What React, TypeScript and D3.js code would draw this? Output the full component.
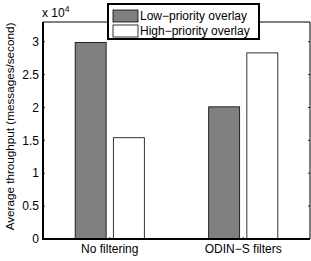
import React from "react";
import * as d3 from "d3";

const categories = ["No filtering", "ODIN\u2212S filters"];
const seriesNames = ["Low\u2212priority overlay", "High\u2212priority overlay"];
const lowValues = [29900, 20100];
const highValues = [15400, 28300];
const yTicks = [0, 5000, 10000, 15000, 20000, 25000, 30000];
const yTickLabels = ["0", "0.5", "1", "1.5", "2", "2.5", "3"];
const colors = ["#808080", "#ffffff"];

const W = 311, H = 261;
const left = 43, right = 310, top = 22, bottom = 239;
const font = "Liberation Sans, Arial, Helvetica, sans-serif";

export default function App() {
  const x = d3.scaleLinear().domain([0.5, 2.5]).range([left, right]);
  const y = d3.scaleLinear().domain([0, 33000]).range([bottom, top]);
  const unit = x(1) - x(0);
  const barW = unit * 0.232;
  const offsets = [-0.143, 0.143];
  const series = [lowValues, highValues];
  return (
    <svg width={W} height={H} style={{ position: "absolute", left: 0, top: 0, background: "#fff" }} fontFamily={font}>
      <rect x={0} y={0} width={W} height={H} fill="#fff" />
      {series.map((vals, si) =>
        vals.map((v, ci) => {
          const cx = x(ci + 1) + offsets[si] * unit;
          return (
            <rect key={`${si}-${ci}`} x={cx - barW / 2} y={y(v)} width={barW} height={y(0) - y(v)}
              fill={colors[si]} stroke="#000" strokeWidth={0.8} />
          );
        })
      )}
      <line x1={left} x2={right} y1={top} y2={top} stroke="#000" strokeWidth={1} />
      <line x1={right} x2={right} y1={top} y2={bottom} stroke="#000" strokeWidth={1} />
      <line x1={left} x2={left} y1={top} y2={bottom + 1} stroke="#000" strokeWidth={2} />
      <line x1={left} x2={right} y1={bottom} y2={bottom} stroke="#000" strokeWidth={2} />
      {yTicks.map((t, i) => (
        <g key={t}>
          <line x1={left} x2={left + 2} y1={y(t)} y2={y(t)} stroke="#000" strokeWidth={0.8} />
          <line x1={right - 2} x2={right} y1={y(t)} y2={y(t)} stroke="#000" strokeWidth={0.8} />
          <text x={left - 4} y={y(t)} dy="0.35em" textAnchor="end" fontSize={12}>{yTickLabels[i]}</text>
        </g>
      ))}
      {categories.map((c, i) => (
        <g key={c}>
          <line x1={x(i + 1)} x2={x(i + 1)} y1={bottom} y2={bottom - 2} stroke="#000" strokeWidth={0.8} />
          <text x={x(i + 1)} y={253} textAnchor="middle" fontSize={12}>{c}</text>
        </g>
      ))}
      <text x={42} y={17} fontSize={12}>x 10<tspan dy={-5} fontSize={8.5}>4</tspan></text>
      <text transform={`translate(14,${(top + bottom) / 2 - 4}) rotate(-90)`} textAnchor="middle" fontSize={11.7}>
        Average throughput (messages/second)
      </text>
      <rect x={108} y={4} width={151} height={35} fill="#fff" stroke="#000" strokeWidth={2} />
      {seriesNames.map((n, i) => (
        <g key={n}>
          <rect x={113} y={10 + i * 15} width={25} height={12} fill={colors[i]} stroke="#000" strokeWidth={0.8} />
          <text x={140} y={16 + i * 15} dy="0.35em" fontSize={12}>{n}</text>
        </g>
      ))}
    </svg>
  );
}
